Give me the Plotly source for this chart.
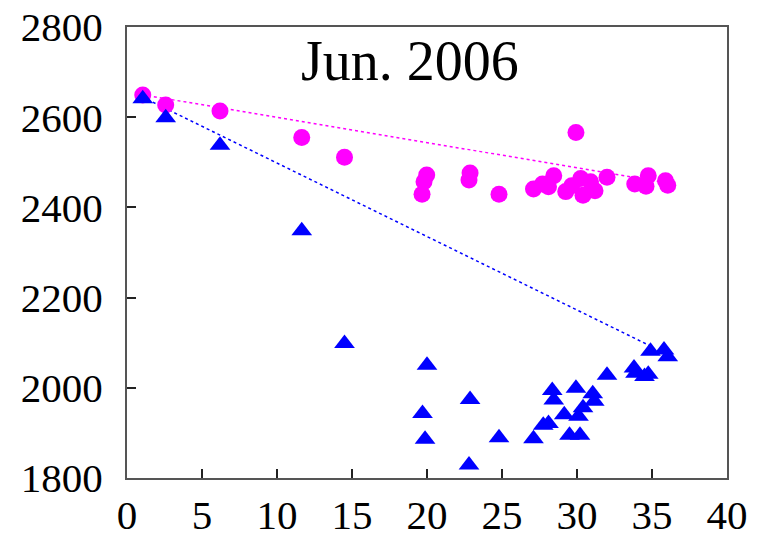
import plotly.graph_objects as go

# Station distance (x) and measured values for the two series
circle_x = [1.05, 2.58, 6.2, 11.65, 14.5, 19.98, 19.8, 19.67, 22.87, 22.8, 24.8,
            27.1, 27.7, 28.1, 28.45, 29.25, 29.65, 29.93, 30.25, 30.4, 30.9, 31.2,
            32.0, 33.85, 34.6, 34.75, 35.9, 36.05]
circle_y = [2649, 2627, 2614, 2555, 2511, 2472, 2457, 2429, 2476, 2461, 2429,
            2441, 2452, 2446, 2470, 2435, 2448, 2566, 2464, 2427, 2457, 2437,
            2467, 2452, 2447, 2470, 2459, 2449]

triangle_x = [1.05, 2.58, 6.2, 11.65, 14.5, 20.0, 19.7, 19.87, 22.87, 22.8, 24.8,
              27.1, 27.75, 28.1, 28.35, 28.45, 29.15, 29.5, 29.93, 30.2, 30.1, 30.4,
              31.05, 31.15, 32.0, 33.8, 33.9, 34.5, 34.75, 34.9, 35.8, 36.05]
triangle_y = [2641, 2599, 2538, 2348, 2098, 2050, 1943, 1886, 1974, 1829, 1889,
              1887, 1917, 1921, 1994, 1973, 1940, 1895, 1999, 1895, 1937, 1956,
              1987, 1970, 2028, 2044, 2032, 2025, 2030, 2081, 2084, 2069]

# Trend line end points
trend_circle_x = [1.0, 35.5]
trend_circle_y = [2650, 2457]
trend_triangle_x = [1.0, 35.0]
trend_triangle_y = [2645, 2091]

x_ticks = [0, 5, 10, 15, 20, 25, 30, 35, 40]
y_ticks = [1800, 2000, 2200, 2400, 2600, 2800]

MAGENTA = "#FF00FF"
BLUE = "#0000FF"

fig = go.Figure()

fig.add_trace(go.Scatter(
    x=trend_circle_x, y=trend_circle_y, mode="lines",
    line=dict(color=MAGENTA, width=1.5, dash="dot"), hoverinfo="skip"))
fig.add_trace(go.Scatter(
    x=trend_triangle_x, y=trend_triangle_y, mode="lines",
    line=dict(color=BLUE, width=1.5, dash="dot"), hoverinfo="skip"))

fig.add_trace(go.Scatter(
    x=circle_x, y=circle_y, mode="markers",
    marker=dict(symbol="circle", size=17, color=MAGENTA, line=dict(width=0))))
fig.add_trace(go.Scatter(
    x=triangle_x, y=triangle_y, mode="markers",
    marker=dict(symbol="triangle-up", size=18, color=BLUE, line=dict(width=0))))

axis_font = dict(family="Liberation Serif", size=41, color="black")

fig.update_layout(
    width=764, height=538,
    margin=dict(l=127, r=37, t=27, b=60, autoexpand=False),
    paper_bgcolor="white", plot_bgcolor="white",
    showlegend=False,
    annotations=[dict(
        text="Jun. 2006", xref="paper", yref="paper", x=0.472, y=0.925,
        xanchor="center", yanchor="middle", showarrow=False,
        font=dict(family="Liberation Serif", size=56, color="black"))],
)

fig.update_xaxes(
    range=[0, 40], tickvals=x_ticks, ticktext=[str(v) for v in x_ticks],
    showgrid=False, zeroline=False, automargin=False,
    showline=True, linecolor="#555555", linewidth=2, mirror=True,
    ticks="inside", ticklen=9, tickcolor="#222222", tickwidth=1.5,
    tickfont=axis_font, ticklabelstandoff=0)
fig.update_yaxes(
    range=[1800, 2800], tickvals=y_ticks, ticktext=[str(v) for v in y_ticks],
    showgrid=False, zeroline=False, automargin=False,
    showline=True, linecolor="#555555", linewidth=2, mirror=True,
    ticks="inside", ticklen=9, tickcolor="#222222", tickwidth=1.5,
    tickfont=axis_font, ticklabelstandoff=14)

fig.write_html("out.html")
